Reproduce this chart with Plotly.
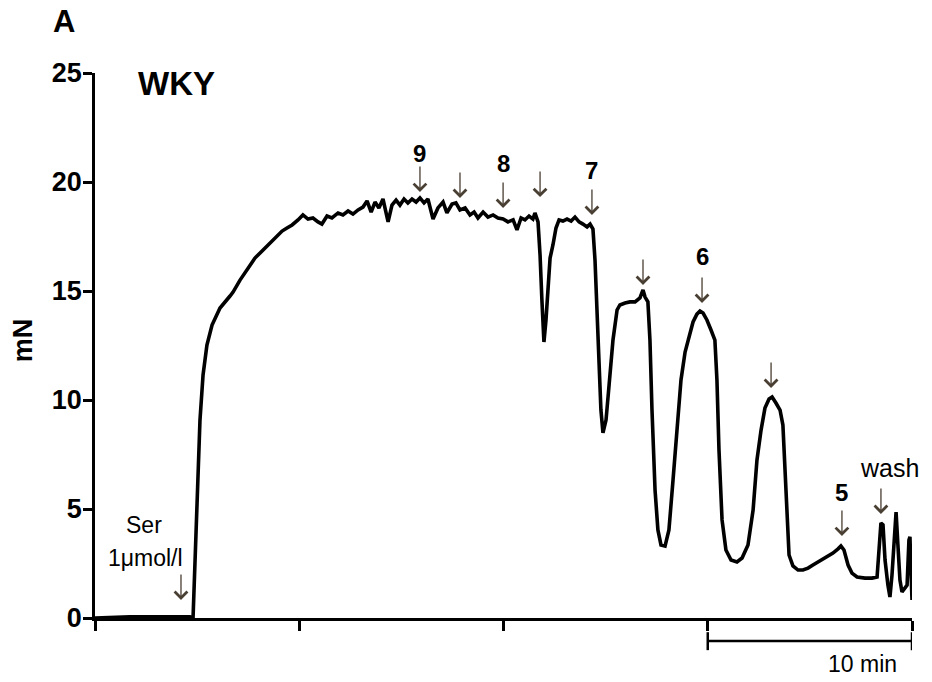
import plotly.graph_objects as go

# Force trace (time in minutes, force in mN)
time_min = [0.00, 1.71, 3.18, 4.65, 4.80, 4.94, 5.04, 5.14, 5.29, 5.48, 5.73, 6.12, 6.61, 6.76,
            7.10, 7.44, 7.83, 8.23, 8.57, 8.91, 9.16, 9.40, 9.65, 9.94, 10.18, 10.43, 10.67,
            10.92, 11.11, 11.36, 11.60, 11.90, 12.14, 12.39, 12.63, 12.88, 13.12, 13.32, 13.52,
            13.71, 13.90, 14.10, 14.35, 14.54, 14.74, 14.93, 15.13, 15.32, 15.52, 15.72, 15.91,
            16.11, 16.30, 16.55, 16.79, 17.04, 17.23, 17.48, 17.67, 17.87, 18.12, 18.36, 18.56,
            18.75, 19.00, 19.24, 19.49, 19.73, 19.98, 20.22, 20.47, 20.66, 20.86, 21.05, 21.25,
            21.44, 21.54, 21.69, 21.79, 21.88, 21.93, 21.98, 22.08, 22.18, 22.28, 22.42, 22.57,
            22.72, 22.91, 23.11, 23.31, 23.50, 23.70, 23.89, 24.09, 24.24, 24.38, 24.48, 24.58,
            24.68, 24.77, 24.87, 25.02, 25.17, 25.36, 25.56, 25.70, 25.95, 26.19, 26.44, 26.68,
            26.83, 26.93, 27.07, 27.17, 27.27, 27.42, 27.56, 27.71, 27.91, 28.10, 28.30, 28.50,
            28.69, 28.89, 29.09, 29.28, 29.47, 29.62, 29.77, 29.96, 30.16, 30.35, 30.45, 30.55,
            30.70, 30.89, 31.14, 31.43, 31.68, 31.97, 32.22, 32.41, 32.61, 32.80, 33.00, 33.15,
            33.34, 33.54, 33.68, 33.78, 33.88, 33.98, 34.17, 34.42, 34.66, 34.91, 35.15, 35.40,
            35.64, 35.89, 36.13, 36.38, 36.52, 36.67, 36.87, 37.06, 37.31, 37.70, 38.04, 38.29,
            38.38, 38.48, 38.58, 38.68, 38.82, 38.92, 39.02, 39.12, 39.22, 39.31, 39.41, 39.51,
            39.66, 39.76, 39.85, 39.90, 39.95, 40.00]
force_mN = [0.00, 0.05, 0.05, 0.05, 0.00, 4.04, 6.79, 9.08, 11.15, 12.52, 13.44, 14.22, 14.77, 14.95,
            15.50, 15.96, 16.51, 16.88, 17.20, 17.52, 17.75, 17.89, 18.03, 18.26, 18.49, 18.30, 18.35,
            18.17, 18.07, 18.44, 18.35, 18.58, 18.49, 18.67, 18.53, 18.72, 18.85, 19.13, 18.62,
            19.08, 18.81, 19.22, 18.17, 18.94, 19.17, 18.94, 19.22, 19.04, 19.22, 19.08, 19.27,
            19.04, 19.22, 18.30, 18.81, 19.08, 18.58, 18.99, 19.04, 18.72, 18.81, 18.49, 18.62,
            18.35, 18.62, 18.39, 18.49, 18.35, 18.30, 18.17, 18.26, 17.80, 18.35, 18.26, 18.44,
            18.30, 18.58, 18.17, 16.65, 14.59, 13.21, 12.66, 13.67, 15.37, 16.51, 17.11, 17.89,
            18.26, 18.21, 18.30, 18.21, 18.39, 18.17, 18.07, 17.94, 18.07, 17.84, 16.42, 14.13,
            11.38, 9.54, 8.49, 9.08, 10.69, 12.75, 14.13, 14.36, 14.45, 14.50, 14.50, 14.68,
            15.05, 14.72, 14.50, 12.75, 9.54, 5.87, 4.04, 3.35, 3.30, 4.04, 6.33, 8.62,
            10.92, 12.20, 12.98, 13.58, 13.94, 14.08, 13.99, 13.67, 13.21, 12.75, 10.92, 7.71,
            4.50, 3.12, 2.66, 2.57, 2.75, 3.35, 4.95, 7.25, 8.62, 9.63, 10.05, 10.14,
            9.86, 9.54, 8.85, 6.79, 4.04, 2.89, 2.39, 2.20, 2.20, 2.29, 2.43, 2.57,
            2.66, 2.84, 2.98, 3.17, 3.30, 3.12, 2.43, 2.06, 1.88, 1.83, 1.83, 1.88,
            2.89, 4.36, 4.27, 2.66, 1.51, 0.96, 1.97, 3.58, 4.86, 3.35, 1.74, 1.19,
            1.38, 1.51, 3.58, 3.72, 2.20, 0.83]

# Arrow markers (tip position) and their labels
arrow_times = [4.21, 15.91, 17.87, 19.98, 21.79, 24.33, 26.83, 29.72, 33.10, 36.57, 38.48]
arrow_tips = [0.83, 19.54, 19.27, 18.81, 19.31, 18.49, 15.28, 14.45, 10.55, 3.76, 4.77]

num_labels = ["9", "8", "7", "6", "5"]
num_label_t = [15.91, 19.98, 24.33, 29.72, 36.57]
num_label_v = [21.33, 20.87, 20.55, 16.56, 5.78]

y_ticks = [0, 5, 10, 15, 20, 25]
x_ticks = [0, 10, 20, 30, 40]
scale_bar = [30, 40]

FONT = "Liberation Sans, Arial, sans-serif"
ARROW_COLOR = "#4a3f33"

fig = go.Figure()
fig.add_trace(go.Scatter(x=time_min, y=force_mN, mode="lines",
                         line=dict(color="black", width=3.6), showlegend=False,
                         hoverinfo="skip"))

annotations = []
for t, v in zip(arrow_times, arrow_tips):
    annotations.append(dict(x=t, y=v, xref="x", yref="y", text="", showarrow=True,
                            ax=0, ay=-27, axref="pixel", ayref="pixel",
                            arrowhead=4, arrowsize=1.9, arrowwidth=1.3,
                            arrowcolor=ARROW_COLOR, standoff=0, startstandoff=0))
for lab, t, v in zip(num_labels, num_label_t, num_label_v):
    annotations.append(dict(x=t, y=v, xref="x", yref="y", text=lab, showarrow=False,
                            font=dict(family=FONT, size=24, color="black", weight="bold"),
                            xanchor="center", yanchor="middle"))
annotations += [
    dict(x=38.92, y=6.88, xref="x", yref="y", text="wash", showarrow=False,
         font=dict(family=FONT, size=25, color="black"), xanchor="center", yanchor="middle"),
    dict(x=2.40, y=4.27, xref="x", yref="y", text="Ser", showarrow=False,
         font=dict(family=FONT, size=23, color="black"), xanchor="center", yanchor="middle"),
    dict(x=2.45, y=2.75, xref="x", yref="y", text="1\u03bcmol/l", showarrow=False,
         font=dict(family=FONT, size=23, color="black"), xanchor="center", yanchor="middle"),
    dict(x=4.01, y=24.5, xref="x", yref="y", text="WKY", showarrow=False,
         font=dict(family=FONT, size=33, color="black", weight="bold"),
         xanchor="center", yanchor="middle"),
    dict(x=-0.038, y=1.094, xref="paper", yref="paper", text="A", showarrow=False,
         font=dict(family=FONT, size=31, color="black", weight="bold"),
         xanchor="center", yanchor="middle"),
    dict(x=-0.088, y=0.51, xref="paper", yref="paper", text="mN", showarrow=False,
         textangle=-90, font=dict(family=FONT, size=27, color="black", weight="bold"),
         xanchor="center", yanchor="middle"),
    dict(x=sum(scale_bar) / 2 + 2.6, y=-0.084, xref="x", yref="paper",
         text=f"{scale_bar[1] - scale_bar[0]} min", showarrow=False,
         font=dict(family=FONT, size=23, color="black"), xanchor="center", yanchor="middle"),
]

shapes = [
    dict(type="line", xref="x", yref="paper", x0=scale_bar[0], x1=scale_bar[1],
         y0=-0.042, y1=-0.042, line=dict(color="black", width=2.5)),
    dict(type="line", xref="x", yref="paper", x0=scale_bar[0], x1=scale_bar[0],
         y0=-0.026, y1=-0.059, line=dict(color="black", width=2.5)),
    dict(type="line", xref="x", yref="paper", x0=scale_bar[1], x1=scale_bar[1],
         y0=-0.026, y1=-0.059, line=dict(color="black", width=2.5)),
]

fig.update_layout(
    width=932, height=682,
    margin=dict(l=95, r=20, t=73, b=64),
    paper_bgcolor="white", plot_bgcolor="white",
    annotations=annotations, shapes=shapes,
    xaxis=dict(range=[0, 40], tickvals=x_ticks, showticklabels=False, ticks="outside",
               ticklen=10, tickwidth=2.5, tickcolor="black", showline=True,
               linecolor="black", linewidth=2.5, showgrid=False, zeroline=False),
    yaxis=dict(range=[0, 25], tickvals=y_ticks, ticks="outside", ticklen=9, tickwidth=2.5,
               tickcolor="black", showline=True, linecolor="black", linewidth=2.5,
               showgrid=False, zeroline=False, ticklabelstandoff=-4,
               tickfont=dict(family=FONT, size=27, color="black", weight="bold")),
)

fig.write_html("out.html")
